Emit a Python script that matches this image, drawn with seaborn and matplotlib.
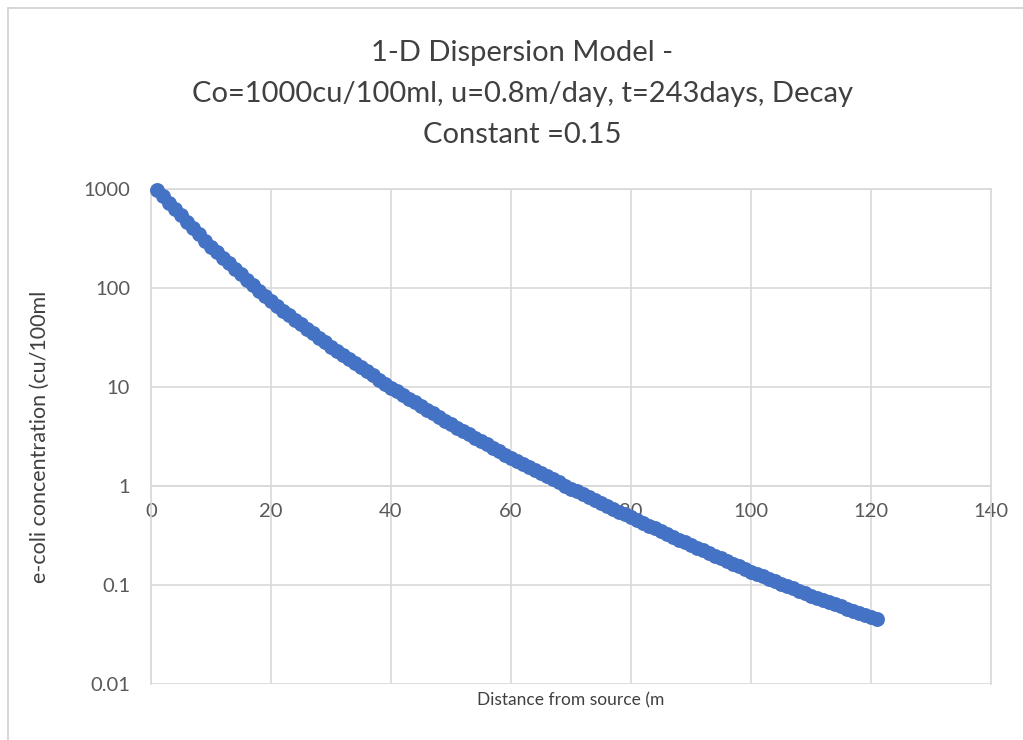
import numpy as np
import seaborn as sns
import matplotlib.pyplot as plt
from matplotlib.lines import Line2D
from matplotlib.ticker import FixedLocator, FixedFormatter

# distance from source (m) - one point per metre
distance = list(range(1, 122))

# e-coli concentration (cu/100ml)
conc = [
    977, 843, 728, 628, 542, 468, 404, 348, 301, 259,
    229, 201, 177, 156, 138, 121, 107, 94.2, 83.0, 73.1,
    65.8, 59.2, 53.2, 47.9, 43.1, 38.7, 34.8, 31.3, 28.2, 25.4,
    23.1, 21.0, 19.1, 17.4, 15.8, 14.4, 13.1, 11.9, 10.8, 9.86,
    9.06, 8.32, 7.64, 7.02, 6.44, 5.92, 5.43, 4.99, 4.58, 4.21,
    3.89, 3.60, 3.33, 3.08, 2.84, 2.63, 2.43, 2.25, 2.08, 1.92,
    1.79, 1.67, 1.55, 1.45, 1.35, 1.25, 1.17, 1.09, 1.01, 0.942,
    0.881, 0.824, 0.771, 0.721, 0.675, 0.631, 0.590, 0.552, 0.516, 0.483,
    0.453, 0.425, 0.398, 0.373, 0.350, 0.328, 0.308, 0.288, 0.270, 0.254,
    0.238, 0.224, 0.210, 0.198, 0.186, 0.175, 0.164, 0.154, 0.145, 0.136,
    0.129, 0.122, 0.115, 0.109, 0.103, 0.0977, 0.0925, 0.0875, 0.0828, 0.0783,
    0.0745, 0.0708, 0.0673, 0.0640, 0.0608, 0.0578, 0.0550, 0.0522, 0.0497, 0.0472,
    0.0449,
]

x_ticks = [0, 20, 40, 60, 80, 100, 120, 140]
y_ticks = [0.01, 0.1, 1, 10, 100, 1000]
y_labels = ['0.01', '0.1', '1', '10', '100', '1000']

sns.set_style('white')
plt.rcParams['font.family'] = ['Lato', 'DejaVu Sans']

grid_col = '#D9D9D9'
text_col = '#595959'

fig = plt.figure(figsize=(10.23, 7.40), dpi=100)
ax = fig.add_axes([151/1023, 1 - 684/740, 840/1023, 495/740])

sns.scatterplot(x=distance, y=conc, ax=ax, color='#4472C4', s=115,
                linewidth=0, zorder=3, clip_on=False)

ax.set_yscale('log')
ax.set_xlim(0, 140)
ax.set_ylim(0.01, 1000)
ax.xaxis.set_major_locator(FixedLocator(x_ticks))
ax.yaxis.set_major_locator(FixedLocator(y_ticks))
ax.yaxis.set_major_formatter(FixedFormatter(y_labels))
ax.yaxis.set_minor_locator(FixedLocator([]))
ax.grid(True, which='major', color=grid_col, linewidth=1.2)
ax.set_axisbelow(True)

# horizontal axis crosses at 1, like the Excel chart
ax.spines['bottom'].set_position(('data', 1))
for side in ['bottom', 'left', 'top', 'right']:
    ax.spines[side].set_color(grid_col)
    ax.spines[side].set_linewidth(1.2)

ax.tick_params(axis='both', length=0, labelsize=14.5, labelcolor=text_col)
ax.tick_params(axis='x', pad=12)
ax.tick_params(axis='y', pad=15)

ax.set_ylabel('e-coli concentration (cu/100ml', fontsize=15.5,
              color='#404040', labelpad=24)
fig.text(571/1023, 1 - 700/740, 'Distance from source (m', fontsize=12.5,
         color='#404040', ha='center', va='center')

fig.text(522/1023, 1 - 94/740,
         '1-D Dispersion Model -\nCo=1000cu/100ml, u=0.8m/day, t=243days, Decay\nConstant =0.15',
         fontsize=21, color='#404040', ha='center', va='center', linespacing=1.72)

# chart area border
fig.add_artist(Line2D([8/1023, 8/1023], [0, 1 - 8/740], color='#D0D0D0',
                      linewidth=1.2, transform=fig.transFigure))
fig.add_artist(Line2D([8/1023, 1], [1 - 8/740, 1 - 8/740], color='#D0D0D0',
                      linewidth=1.2, transform=fig.transFigure))

fig.savefig('out.png', dpi=100)
